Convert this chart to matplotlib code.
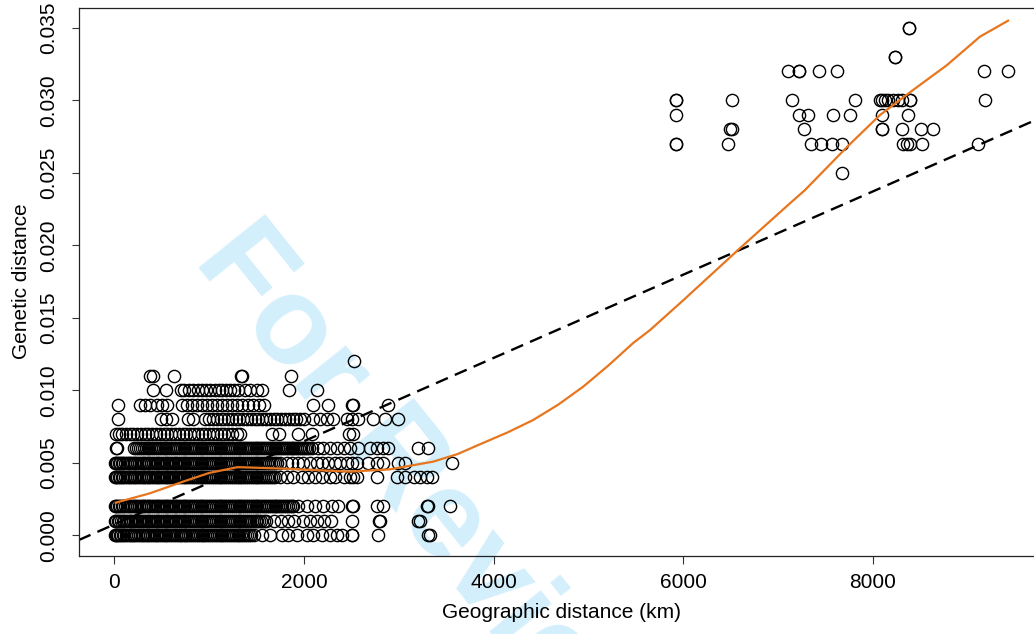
import matplotlib
matplotlib.use("Agg")
import matplotlib.pyplot as plt
import numpy as np

plt.rcParams['font.family'] = ['Liberation Sans', 'DejaVu Sans']

# geographic distance (km) of each pair, grouped by genetic distance level
x_0000 = [15, 30, 55, 90, 120, 160, 195, 230, 270, 305, 340, 380, 420, 455, 490, 530, 570,
          610, 650, 690, 725, 760, 800, 840, 880, 920, 960, 1000, 1040, 1080, 1120, 1160,
          1200, 1240, 1280, 1320, 1360, 1400, 1440, 1470, 1560, 1640, 1770, 1830, 1930,
          2030, 2100, 2190, 2280, 2350, 2400, 2507, 2510, 2782, 3310, 3330]
x_0000_b = [5, 40, 72, 105, 140, 178, 212, 250, 288, 322, 360, 400, 438, 472, 510, 550, 590,
            630, 670, 708, 742, 780, 820, 860, 900, 940, 980, 1020, 1060, 1100, 1140, 1180,
            1220, 1260, 1300, 1340, 1380, 1420]
x_0001 = [10, 35, 70, 105, 140, 180, 220, 255, 290, 330, 370, 410, 445, 480, 520, 560, 600,
          635, 670, 710, 750, 790, 830, 870, 910, 950, 990, 1030, 1070, 1110, 1150, 1190,
          1230, 1270, 1310, 1350, 1390, 1430, 1470, 1510, 1550, 1600, 1680, 1760, 1830,
          1900, 1990, 2060, 2140, 2210, 2290, 2507, 2790, 2803, 3200, 3225]
x_0001_b = [20, 52, 88, 122, 160, 200, 238, 272, 310, 350, 390, 428, 462, 500, 540, 580, 618,
            652, 690, 730, 770, 810, 850, 890, 930, 970, 1010, 1050, 1090, 1130, 1170, 1210,
            1250, 1290, 1330, 1370, 1410, 1450, 1490, 1530, 1575]
x_0002 = [10, 30, 60, 95, 130, 170, 205, 240, 280, 315, 350, 390, 430, 465, 500, 540, 580,
          620, 655, 690, 730, 770, 810, 850, 890, 930, 970, 1010, 1050, 1090, 1130, 1170,
          1210, 1250, 1290, 1330, 1370, 1410, 1450, 1490, 1530, 1570, 1610, 1650, 1690,
          1730, 1770, 1810, 1850, 1890, 1940, 2035, 2120, 2205, 2300, 2360, 2507, 2520,
          2770, 2835, 3300, 3310, 3540]
x_0002_b = [20, 45, 78, 112, 150, 188, 222, 260, 298, 332, 370, 410, 448, 482, 520, 560, 600,
            638, 672, 710, 750, 790, 830, 870, 910, 950, 990, 1030, 1070, 1110, 1150, 1190,
            1230, 1270, 1310, 1350, 1390, 1430, 1470, 1510, 1550, 1590, 1630, 1670, 1710,
            1750, 1790, 1830, 1870]
x_0004 = [10, 30, 60, 95, 130, 170, 205, 240, 280, 315, 350, 390, 430, 465, 500, 540, 580,
          620, 655, 690, 730, 770, 810, 850, 890, 930, 970, 1010, 1050, 1090, 1130, 1170,
          1210, 1250, 1290, 1330, 1370, 1410, 1450, 1490, 1530, 1570, 1610, 1650, 1700,
          1750, 1820, 1885, 1980, 2045, 2120, 2190, 2275, 2330, 2420, 2490, 2520, 2560,
          2770, 2985, 3070, 3165, 3225, 3300, 3350]
x_0004_b = [20, 45, 78, 112, 150, 188, 222, 260, 298, 332, 370, 410, 448, 482, 520, 560, 600,
            638, 672, 710, 750, 790, 830, 870, 910, 950, 990, 1030, 1070, 1110, 1150, 1190,
            1230, 1270, 1310, 1350, 1390, 1430, 1470, 1510, 1550, 1590, 1630, 1675]
x_0005 = [10, 30, 60, 95, 130, 170, 205, 240, 280, 315, 350, 390, 430, 465, 500, 540, 580,
          620, 655, 690, 730, 770, 810, 850, 890, 930, 970, 1010, 1050, 1090, 1130, 1170,
          1210, 1250, 1290, 1330, 1370, 1410, 1450, 1490, 1530, 1570, 1610, 1650, 1700,
          1750, 1820, 1875, 1940, 1990, 2065, 2140, 2190, 2255, 2330, 2380, 2455, 2510,
          2560, 2680, 2770, 2835, 2995, 3070, 3560]
x_0005_b = [20, 45, 78, 112, 150, 188, 222, 260, 298, 332, 370, 410, 448, 482, 520, 560, 600,
            638, 672, 710, 750, 790, 830, 870, 910, 950, 990, 1030, 1070, 1110, 1150, 1190,
            1230, 1270, 1310, 1350, 1390, 1430, 1470, 1510, 1550, 1590, 1630, 1675, 1720]
x_0006 = [20, 30, 210, 250, 290, 330, 370, 410, 450, 490, 530, 570, 610, 650, 690, 730, 770,
          810, 850, 890, 930, 970, 1010, 1050, 1090, 1130, 1170, 1210, 1250, 1290, 1330,
          1370, 1410, 1450, 1490, 1530, 1570, 1610, 1650, 1690, 1730, 1770, 1810, 1850,
          1890, 1930, 1970, 2010, 2050, 2085, 2150, 2205, 2280, 2350, 2420, 2490, 2570,
          2700, 2770, 2835, 2890, 3200, 3310]
x_0006_b = [230, 270, 310, 350, 390, 430, 470, 510, 550, 590, 630, 670, 710, 750, 790, 830,
            870, 910, 950, 990, 1030, 1070, 1110, 1150, 1190, 1230, 1270, 1310, 1350, 1390,
            1430, 1470, 1510, 1550, 1590, 1630, 1670, 1710, 1750, 1790, 1830, 1870, 1910,
            1950, 1990, 2030]
x_0007 = [20, 50, 85, 120, 160, 200, 240, 280, 320, 360, 400, 440, 480, 520, 560, 600, 640,
          680, 720, 760, 800, 840, 880, 920, 960, 1000, 1040, 1080, 1120, 1160, 1200, 1240,
          1290, 1330, 1665, 1740, 1940, 2085, 2475, 2520]
x_0008 = [40, 490, 545, 610, 780, 830, 960, 1000, 1040, 1080, 1120, 1160, 1200, 1240, 1280,
          1320, 1360, 1400, 1440, 1480, 1520, 1560, 1600, 1640, 1680, 1720, 1760, 1800, 1840,
          1880, 1920, 1960, 2000, 2100, 2170, 2245, 2305, 2455, 2505, 2570, 2730, 2855, 2990]
x_0009 = [40, 271, 324, 377, 450, 503, 556, 714, 767, 820, 872, 925, 978, 1031, 1084, 1136,
          1189, 1242, 1294, 1347, 1410, 1463, 1526, 1579, 2096, 2254, 2507, 2518, 2887]
x_0010 = [408, 545, 700, 740, 790, 830, 880, 920, 970, 1010, 1060, 1100, 1140, 1180, 1220,
          1260, 1300, 1380, 1430, 1500, 1560, 1840, 2140]
x_0011 = [380, 410, 630, 1340, 1345, 1860]
x_0012 = [2530]
x_0025 = [7677]
x_0027 = [5925, 5925, 6474, 7350, 7455, 7571, 7677, 8321, 8363, 8394, 8521, 9112]
x_0028 = [6495, 6516, 7276, 8099, 8099, 8310, 8510, 8637]
x_0029 = [5925, 7223, 7318, 7582, 7762, 8099, 8373]
x_0030 = [5925, 5925, 6516, 7149, 7814, 8078, 8099, 8131, 8162, 8215, 8268, 8310, 8394,
          8394, 9185]
x_0032 = [7107, 7223, 7223, 7434, 7624, 9175, 9428]
x_0033 = [8236, 8236]
x_0035 = [8384, 8384]

levels = [0.000, 0.000, 0.001, 0.001, 0.002, 0.002, 0.004, 0.004, 0.005, 0.005, 0.006,
          0.006, 0.007, 0.008, 0.009, 0.010, 0.011, 0.012, 0.025, 0.027, 0.028, 0.029,
          0.030, 0.032, 0.033, 0.035]
groups = [x_0000, x_0000_b, x_0001, x_0001_b, x_0002, x_0002_b, x_0004, x_0004_b, x_0005,
          x_0005_b, x_0006, x_0006_b, x_0007, x_0008, x_0009, x_0010, x_0011, x_0012,
          x_0025, x_0027, x_0028, x_0029, x_0030, x_0032, x_0033, x_0035]

geo = np.concatenate([np.array(g, float) for g in groups])
gen = np.concatenate([np.full(len(g), lv) for g, lv in zip(groups, levels)])

# linear fit (dashed) and loess smooth (orange)
lm_intercept = 0.00075
lm_slope = 2.87e-6
loess_x = [15, 377, 725, 1000, 1300, 1780, 2487, 2909, 3363, 3620, 3890, 4150, 4418, 4680,
           4946, 5210, 5473, 5652, 6000, 6600, 7128, 7286, 7729, 8078, 8426, 8784, 9132, 9428]
loess_y = [0.00225, 0.0029, 0.0037, 0.0043, 0.0047, 0.0046, 0.00439, 0.00455, 0.00508,
           0.0056, 0.00637, 0.0071, 0.00795, 0.0090, 0.01025, 0.0117, 0.01326, 0.01416,
           0.0162, 0.0198, 0.0229, 0.02381, 0.02678, 0.02899, 0.03071, 0.03243, 0.03439,
           0.03549]

fig = plt.figure(figsize=(10.34, 6.34), dpi=100)
fig.patch.set_facecolor('white')
W, H = 1034, 634
ax = fig.add_axes([78.6 / W, 1 - 555.6 / H, (1043.8 - 78.6) / W, (555.6 - 7.5) / H])
ax.patch.set_visible(False)

# watermark behind everything
fig.text(193 / W, 1 - 260 / H, 'For Review', rotation=-51.3, rotation_mode='anchor',
         ha='left', va='baseline', fontsize=90, fontweight='bold', color='#D4EFFC',
         zorder=-5)

ax.plot(geo, gen, linestyle='none', marker='o', markersize=8.8, markerfacecolor='none',
        markeredgecolor='black', markeredgewidth=1.0)

xl = np.array([-377, 9805])
ax.plot(xl, lm_intercept + lm_slope * xl, color='black', lw=1.7, ls=(0, (5.5, 3.2)))
ax.plot(loess_x, loess_y, color='#E8761E', lw=1.6, solid_joinstyle='round')

ax.set_xlim(-377, 9805)
ax.set_ylim(-0.0014, 0.0364)
ax.set_xticks([0, 2000, 4000, 6000, 8000])
ax.set_yticks(np.arange(0, 0.0351, 0.005))
ax.set_yticklabels([f'{v:.3f}' for v in np.arange(0, 0.0351, 0.005)], rotation=90,
                   va='center')
ax.tick_params(axis='both', direction='out', length=5.4, width=0.8, labelsize=15,
               color='#333333')
ax.tick_params(axis='x', pad=7)
ax.tick_params(axis='y', pad=9)
for s in ax.spines.values():
    s.set_linewidth(0.9)
    s.set_color('#222222')

ax.set_xlabel('Geographic distance (km)', fontsize=15, labelpad=8)
ax.set_ylabel('Genetic distance', fontsize=15, labelpad=6)

fig.savefig('out.png', dpi=100, facecolor='white')
